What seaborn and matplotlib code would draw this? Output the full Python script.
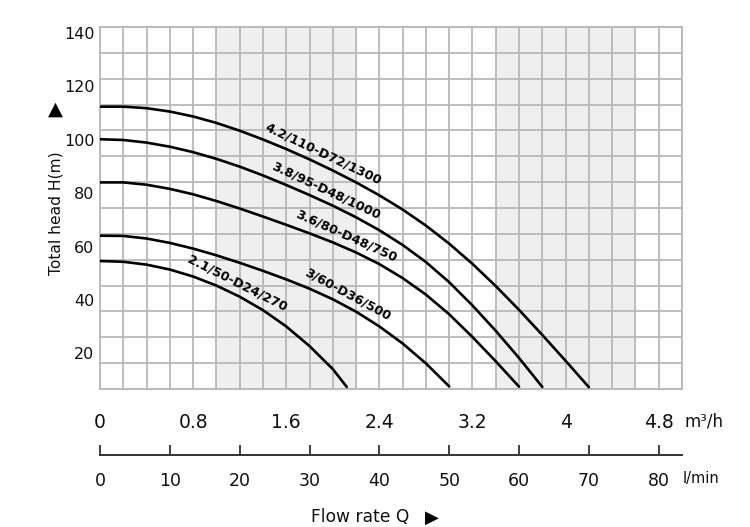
import seaborn as sns
import matplotlib.pyplot as plt
import numpy as np
import pandas as pd

# Data (flow in m3/h, head in m)
flow_steps = [0.0, 0.2, 0.4, 0.6, 0.8, 1.0, 1.2, 1.4, 1.6, 1.8, 2.0,
              2.2, 2.4, 2.6, 2.8, 3.0, 3.2, 3.4, 3.6, 3.8, 4.0, 4.2]

head_42 = [109.2, 109.2, 108.6, 107.3, 105.4, 102.9, 99.9, 96.5, 92.8, 88.8, 84.5,
           79.9, 74.9, 69.4, 63.2, 56.2, 48.4, 39.8, 30.6, 20.9, 10.9, 0.7]
head_38 = [96.6, 96.3, 95.3, 93.7, 91.6, 89.0, 86.0, 82.6, 78.9, 75.0, 70.9,
           66.4, 61.4, 55.7, 49.1, 41.3, 32.3, 22.5, 12.0, 0.8]
head_36 = [79.9, 79.9, 79.0, 77.4, 75.3, 72.7, 69.8, 66.7, 63.5, 60.2, 56.7,
           52.8, 48.3, 42.9, 36.5, 28.9, 20.1, 10.7, 0.9]
head_30 = [59.3, 59.2, 58.2, 56.5, 54.3, 51.7, 48.8, 45.7, 42.4, 38.8, 34.7,
           29.9, 24.2, 17.6, 9.9, 1.0]
head_21 = [49.5, 49.2, 48.1, 46.2, 43.5, 40.0, 35.7, 30.5, 24.2, 16.6, 7.7, 0.8]
flow_21 = flow_steps[:11] + [2.12]

models = ['4.2/110-D72/1300', '3.8/95-D48/1000', '3.6/80-D48/750',
          '3/60-D36/500', '2.1/50-D24/270']
heads = [head_42, head_38, head_36, head_30, head_21]
flows = [flow_steps[:len(head_42)], flow_steps[:len(head_38)], flow_steps[:len(head_36)],
         flow_steps[:len(head_30)], flow_21]

# where each curve name sits (flow at the middle of the text)
label_q = [1.88, 1.90, 2.08, 2.08, 1.14]

shade_bands = [(1.0, 2.2), (3.4, 4.6)]
q_ticks = [0, 0.8, 1.6, 2.4, 3.2, 4, 4.8]
q_labels = ['0', '0.8', '1.6', '2.4', '3.2', '4', '4.8']
lmin_ticks = [0, 10, 20, 30, 40, 50, 60, 70, 80]
h_labels = [20, 40, 60, 80, 100, 120, 140]

rows = []
for m, q, h in zip(models, flows, heads):
    for qq, hh in zip(q, h):
        rows.append({'model': m, 'Q': qq, 'H': hh})
df = pd.DataFrame(rows)

sns.set_style('white')
plt.rcParams['font.family'] = ['DejaVu Sans']

gc = '#b8b8b8'
fig = plt.figure(figsize=(7.5, 5.27), dpi=100)
ax = fig.add_axes([100 / 750, 1 - 389 / 527, 582 / 750, 362 / 527])

for a, b in shade_bands:
    ax.axvspan(a, b, color='#efefef', lw=0, zorder=0.2)

sns.lineplot(data=df, x='Q', y='H', units='model', estimator=None, sort=False,
             color='black', linewidth=1.9, legend=False, ax=ax, zorder=3)

ax.set_xlim(0, 5)
ax.set_ylim(0, 140)

# curve names, laid along each curve just above it
for m, q, h, qc in zip(models, flows, heads, label_q):
    p0 = ax.transData.transform((qc - 0.45, np.interp(qc - 0.45, q, h)))
    p1 = ax.transData.transform((qc + 0.45, np.interp(qc + 0.45, q, h)))
    pc = ax.transData.transform((qc, np.interp(qc, q, h)))
    d = p1 - p0
    ang = np.degrees(np.arctan2(d[1], d[0]))
    nrm = np.array([-d[1], d[0]]) / np.hypot(*d)
    pos = ax.transData.inverted().transform(pc + nrm * 11)
    ax.text(pos[0], pos[1], m, rotation=ang, rotation_mode='anchor', ha='center',
            va='center', fontsize=9.2, fontweight='bold', color='black', zorder=4)

ax.set_xticks(np.arange(0, 5.01, 0.2), minor=True)
ax.set_yticks(np.arange(0, 141, 10), minor=True)
ax.set_yticks([])
ax.set_xticks(q_ticks)
ax.set_xticklabels(q_labels, fontsize=13.5, color='#111111')
ax.set_axisbelow(True)
ax.grid(True, which='both', color=gc, lw=1.3)
ax.tick_params(which='minor', length=0)
ax.tick_params(axis='x', which='major', length=11.5, width=1.3, color=gc, pad=6)
ax.xaxis.get_major_ticks()[0].tick1line.set_visible(False)
for s in ax.spines.values():
    s.set_color(gc)
    s.set_linewidth(1.3)
ax.set_xlabel('')
ax.set_ylabel('')

# head labels (slightly offset scale as in the printed chart)
lab = ax.twinx()
lab.set_ylim(6.6, 142.3)
lab.yaxis.set_ticks_position('left')
lab.set_yticks(h_labels)
lab.set_yticklabels([str(v) for v in h_labels], fontsize=11.5, color='#111111')
lab.tick_params(axis='y', length=0, pad=4)
for s in lab.spines.values():
    s.set_visible(False)

# l/min scale
sec = ax.secondary_xaxis(-0.1823, functions=(lambda q: q * 1000 / 60, lambda l: l * 60 / 1000))
sec.set_xticks(lmin_ticks)
sec.set_xticklabels([str(v) for v in lmin_ticks], fontsize=12.5, color='#111111')
sec.tick_params(axis='x', direction='in', length=7.2, width=1.3, color='#333333', pad=12.5)
for s in sec.spines.values():
    s.set_color('#333333')
    s.set_linewidth(1.4)

fig.text(684 / 750, 1 - 421 / 527, 'm³/h', fontsize=12, ha='left', va='center', color='#111111')
fig.text(683 / 750, 1 - 478 / 527, 'l/min', fontsize=10.5, ha='left', va='center', color='#111111')
fig.text(360 / 750, 1 - 517 / 527, 'Flow rate Q', fontsize=12.3, ha='center', va='center', color='#111111')
fig.text(432 / 750, 1 - 518 / 527, '▶', fontsize=13, ha='center', va='center', color='black')
fig.text(56 / 750, 1 - 213 / 527, 'Total head H(m)', fontsize=11.2, rotation=90,
         ha='center', va='center', color='#111111')
fig.text(55.5 / 750, 1 - 109 / 527, '▲', fontsize=14, ha='center', va='center', color='black')

plt.savefig('out.png', dpi=100)
